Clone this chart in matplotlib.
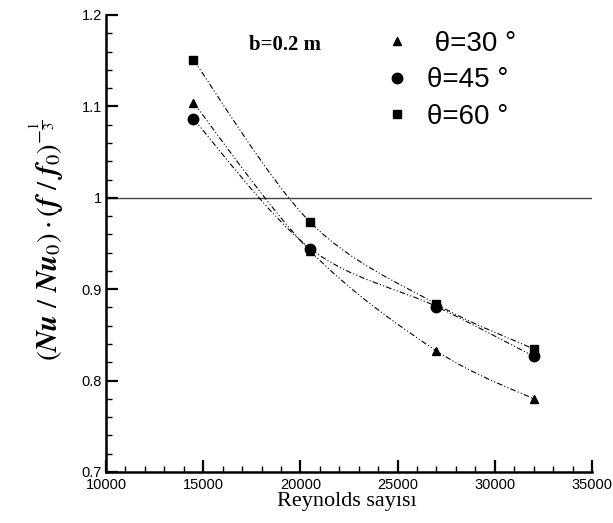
import numpy as np
import matplotlib
matplotlib.use("Agg")
import matplotlib.pyplot as plt
from matplotlib.path import Path
from matplotlib.patches import PathPatch
from matplotlib.ticker import MultipleLocator
from matplotlib.lines import Line2D

plt.rcParams['mathtext.fontset'] = 'stix'

reynolds = [14500, 20500, 27000, 32000]
theta30 = [1.104, 0.942, 0.8325, 0.780]
theta45 = [1.086, 0.9445, 0.881, 0.8266]
theta60 = [1.1507, 0.9734, 0.8836, 0.8347]
labels = [" \u03b8=30 \u00b0", "\u03b8=45 \u00b0", "\u03b8=60 \u00b0"]
markers = ['^', 'o', 's']
msizes = [5.5, 7.5, 5.5]

fig = plt.figure(figsize=(6.13, 5.23), dpi=100)
ax = fig.add_axes([106/613, 1-472/523, (592-106)/613, (472-15)/523])
ax.set_xlim(10000, 35000)
ax.set_ylim(0.7, 1.2)


def smooth_path(xs, ys):
    pts = np.column_stack([xs, ys]).astype(float)
    ext = np.vstack([pts[0], pts, pts[-1]])
    verts = [tuple(pts[0])]
    codes = [Path.MOVETO]
    for i in range(len(pts) - 1):
        p0, p1, p2, p3 = ext[i], ext[i+1], ext[i+2], ext[i+3]
        c1 = p1 + (p2 - p0) / 6.0
        c2 = p2 - (p3 - p1) / 6.0
        verts += [tuple(c1), tuple(c2), tuple(p2)]
        codes += [Path.CURVE4] * 3
    return Path(verts, codes)


ax.axhline(1.0, color='#444444', lw=1.0, zorder=1)

handles = []
for ys, m, ms, lab in zip([theta30, theta45, theta60], markers, msizes, labels):
    patch = PathPatch(smooth_path(reynolds, ys), fill=False, edgecolor='black',
                      lw=0.8, linestyle=(0, (5, 2, 1, 2, 1, 2)), zorder=2)
    ax.add_patch(patch)
    ax.plot(reynolds, ys, linestyle='none', marker=m, ms=ms, color='black', zorder=3)
    handles.append(Line2D([], [], linestyle='none', marker=m, ms=ms, color='black', label=lab))

for s in ['top', 'right']:
    ax.spines[s].set_visible(False)
for s in ['left', 'bottom']:
    ax.spines[s].set_linewidth(1.8)

ax.xaxis.set_major_locator(MultipleLocator(5000))
ax.xaxis.set_minor_locator(MultipleLocator(1000))
ax.yaxis.set_major_locator(MultipleLocator(0.1))
ax.yaxis.set_minor_locator(MultipleLocator(0.02))
ax.tick_params(which='major', direction='in', length=8.5, width=1.6,
               labelsize=10.5, labelfontfamily='Liberation Sans')
ax.tick_params(which='minor', direction='in', length=4.5, width=1.0)
ax.tick_params(axis='x', which='major', pad=4)
ax.tick_params(axis='y', which='major', pad=3)
ax.yaxis.set_major_formatter(plt.FuncFormatter(lambda v, p: ('%g' % round(v, 2))))

fig.text(285/613, 1-45/523, 'b=0.2 m', fontfamily='Liberation Serif', fontweight='bold',
         fontsize=15, ha='center', va='center')

leg = ax.legend(handles=handles, loc='upper left', bbox_to_anchor=((369-106)/486, 1-(17-15)/457),
                frameon=False, prop={'family': 'Liberation Sans', 'size': 20},
                handlelength=1.0, handletextpad=0.6, labelspacing=0.38, borderpad=0.0)

ax.set_xlabel('Reynolds sayısı', fontfamily='Liberation Serif', fontsize=16)
ax.xaxis.set_label_coords((347-106)/486, -(492-472)/457)

fig.text(47/613, 1-240/523,
         r'$(\mathbfit{Nu}\ /\ \mathbfit{Nu}_0)\cdot(\mathbfit{f}\ /\ \mathbfit{f}_0)^{-\frac{1}{3}}$',
         rotation=90, ha='center', va='center', fontsize=21)

fig.savefig('out.png', dpi=100)
